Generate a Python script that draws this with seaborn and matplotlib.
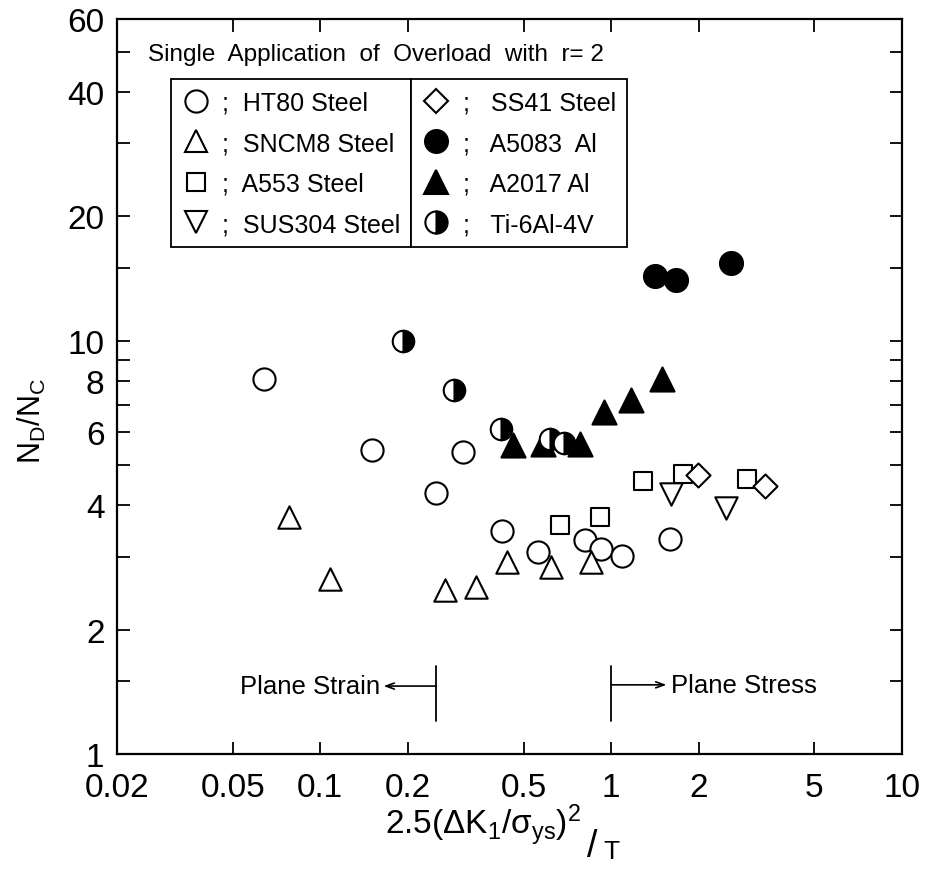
import numpy as np
import pandas as pd
import matplotlib
matplotlib.use("Agg")
import matplotlib.pyplot as plt
import seaborn as sns
from matplotlib.lines import Line2D
from matplotlib.ticker import NullLocator, FixedLocator, FixedFormatter

# ---- data: x = 2.5(dK/sigma_ys)^2/T, y = N_D/N_C ----
ht80_x = [0.064, 0.151, 0.25, 0.31, 0.42, 0.56, 0.815, 0.926, 1.09, 1.59]
ht80_y = [8.09, 5.45, 4.29, 5.39, 3.47, 3.08, 3.30, 3.14, 3.02, 3.32]

sncm8_x = [0.078, 0.108, 0.268, 0.343, 0.439, 0.622, 0.855]
sncm8_y = [3.75, 2.65, 2.50, 2.54, 2.92, 2.84, 2.92]

a553_x = [0.668, 0.918, 1.29, 1.76, 2.93]
a553_y = [3.58, 3.75, 4.58, 4.76, 4.63]

sus304_x = [1.60, 2.48]
sus304_y = [4.26, 3.94]

ss41_x = [1.99, 3.38]
ss41_y = [4.74, 4.46]

a5083_x = [1.42, 1.67, 2.58]
a5083_y = [14.3, 14.0, 15.4]

a2017_x = [0.46, 0.584, 0.784, 0.948, 1.17, 1.49]
a2017_y = [5.60, 5.63, 5.63, 6.73, 7.20, 8.09]

ti_x = [0.192, 0.288, 0.418, 0.618, 0.69]
ti_y = [10.0, 7.61, 6.12, 5.79, 5.66]

x_ticks = [0.02, 0.05, 0.1, 0.2, 0.5, 1, 2, 5, 10]
x_labels = ["0.02", "0.05", "0.1", "0.2", "0.5", "1", "2", "5", "10"]
y_ticks = [1, 1.5, 2, 3, 4, 5, 6, 7, 8, 9, 10, 15, 20, 30, 40, 50, 60]
y_labels = ["1", "", "2", "", "4", "", "6", "", "8", "", "10", "", "20", "", "40", "", "60"]

strain_limit = 0.25
stress_limit = 1.0

# ---- style ----
sns.set_theme(style="ticks")
plt.rcParams["font.family"] = ["Liberation Sans", "DejaVu Sans"]
plt.rcParams["mathtext.fontset"] = "custom"
plt.rcParams["mathtext.rm"] = "Liberation Sans"
plt.rcParams["mathtext.it"] = "Liberation Sans"
plt.rcParams["mathtext.sf"] = "Liberation Sans"
plt.rcParams["text.color"] = "black"

fig = plt.figure(figsize=(9.28, 8.7), dpi=100)
fig.patch.set_facecolor("white")
ax = fig.add_axes([117 / 928, 1 - 755 / 870, (902 - 117) / 928, (755 - 20) / 870])
ax.set_facecolor("white")
ax.set_xscale("log")
ax.set_yscale("log")
ax.set_xlim(0.02, 10)
ax.set_ylim(1, 60)

EW = 1.5
open_series = [
    (ht80_x, ht80_y, "o", 255),
    (sncm8_x, sncm8_y, "^", 260),
    (a553_x, a553_y, "s", 175),
    (sus304_x, sus304_y, "v", 260),
    (ss41_x, ss41_y, "D", 150),
]
for xs, ys, mk, s in open_series:
    sns.scatterplot(x=xs, y=ys, marker=mk, s=s, color="white",
                    edgecolor="black", linewidth=EW, ax=ax, zorder=3, legend=False)

sns.scatterplot(x=a5083_x, y=a5083_y, marker="o", s=275, color="black",
                edgecolor="black", linewidth=EW, ax=ax, zorder=3, legend=False)
sns.scatterplot(x=a2017_x, y=a2017_y, marker="^", s=300, color="black",
                edgecolor="black", linewidth=EW, ax=ax, zorder=3, legend=False)
ax.plot(ti_x, ti_y, linestyle="none", marker="o", ms=15.5, fillstyle="right",
        markerfacecolor="black", markerfacecoloralt="white",
        markeredgecolor="black", mew=EW, zorder=4)

# ---- plane strain / plane stress markers ----
ax.plot([strain_limit, strain_limit], [1.20, 1.63], color="black", lw=1.3, zorder=2)
ax.plot([stress_limit, stress_limit], [1.20, 1.63], color="black", lw=1.3, zorder=2)
arrow = dict(arrowstyle="->,head_length=0.5,head_width=0.18", lw=1.2, color="black",
             shrinkA=0, shrinkB=0)
ax.annotate("", xy=(0.165, 1.46), xytext=(strain_limit, 1.46), arrowprops=arrow)
ax.annotate("", xy=(1.55, 1.47), xytext=(stress_limit, 1.47), arrowprops=arrow)
ax.text(0.160, 1.46, "Plane Strain", ha="right", va="center", fontsize=18.5)
ax.text(1.60, 1.47, "Plane Stress", ha="left", va="center", fontsize=18.5)

# ---- axes, ticks ----
for sp in ax.spines.values():
    sp.set_visible(True)
    sp.set_linewidth(1.6)
    sp.set_color("black")
ax.xaxis.set_major_locator(FixedLocator(x_ticks))
ax.xaxis.set_major_formatter(FixedFormatter(x_labels))
ax.yaxis.set_major_locator(FixedLocator(y_ticks))
ax.yaxis.set_major_formatter(FixedFormatter(y_labels))
ax.xaxis.set_minor_locator(NullLocator())
ax.yaxis.set_minor_locator(NullLocator())
ax.tick_params(axis="both", which="major", direction="in", top=True, right=True,
               length=9, width=1.3, color="black", labelsize=24, labelcolor="black")
ax.tick_params(axis="x", pad=13)
ax.tick_params(axis="y", pad=9)

# ---- title inside plot ----
ax.text(0.04, 0.952, "Single  Application  of  Overload  with  r= 2",
        transform=ax.transAxes, fontsize=17.5, va="center", ha="left")

# ---- legend in two framed columns ----
def handle(marker, ms, face, alt=None, fill="full"):
    kw = dict(linestyle="none", marker=marker, ms=ms, markerfacecolor=face,
              markeredgecolor="black", mew=EW, fillstyle=fill)
    if alt is not None:
        kw["markerfacecoloralt"] = alt
    return Line2D([], [], **kw)

left_handles = [handle("o", 16, "white"), handle("^", 16, "white"),
                handle("s", 13, "white"), handle("v", 16, "white")]
left_labels = [";  HT80 Steel", ";  SNCM8 Steel", ";  A553 Steel", ";  SUS304 Steel"]
right_handles = [handle("D", 12, "white"), handle("o", 16.5, "black"),
                 handle("^", 17, "black"), handle("o", 16, "black", "white", "right")]
right_labels = [";   SS41 Steel", ";   A5083  Al", ";   A2017 Al", ";   Ti-6Al-4V"]

common = dict(fontsize=18, frameon=True, fancybox=False, framealpha=1,
              edgecolor="black", handlelength=1.1, handletextpad=0.5,
              labelspacing=0.66, borderpad=0.45, borderaxespad=0)
leg1 = ax.legend(left_handles, left_labels, loc="upper right",
                 bbox_to_anchor=(0.375, 0.918), **common)
leg1.get_frame().set_linewidth(1.3)
ax.add_artist(leg1)
leg2 = ax.legend(right_handles, right_labels, loc="upper left",
                 bbox_to_anchor=(0.375, 0.918), **common)
leg2.get_frame().set_linewidth(1.3)

# ---- axis labels ----
fig.text(385 / 928, 1 - 826 / 870, "2.5(ΔK$_1$/σ$_{ys}$)$^2$", fontsize=24,
         ha="left", va="center")
fig.text(592 / 928, 1 - 847 / 870, "/", fontsize=27, ha="center", va="center")
fig.text(611 / 928, 1 - 852 / 870, "T", fontsize=19, ha="center", va="center")
fig.text(32 / 928, 1 - 421 / 870, "N$_D$/N$_C$", fontsize=22, rotation=90,
         ha="center", va="center")

fig.savefig("out.png", dpi=100, facecolor="white")
